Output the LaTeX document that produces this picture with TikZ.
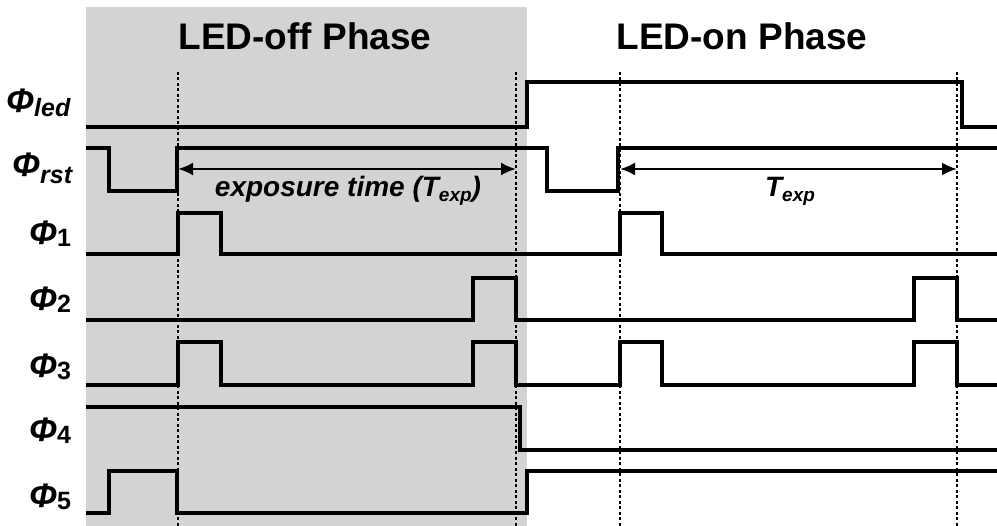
\documentclass[tikz,border=0pt]{standalone}
\usepackage{fontspec}
\setmainfont{Liberation Sans}
\usetikzlibrary{arrows.meta}
\definecolor{phasegray}{RGB}{211,211,211}
\newcommand{\sigsub}[2]{\raisebox{-#1pt}{\fontsize{25}{28}\selectfont #2}}
\newcommand{\expsub}{\raisebox{-5pt}{\fontsize{19}{20}\selectfont exp}}
\begin{document}
\begin{tikzpicture}[x=1pt,y=-1pt,
  wave/.style={line width=4pt, line join=miter},
  guide/.style={line width=2.6pt, dash pattern=on 3pt off 2.5pt},
  span/.style={line width=2.5pt, {Latex[length=15pt,width=13pt]}-{Latex[length=15pt,width=13pt]}},
  sig/.style={font=\fontsize{34}{36}\selectfont\bfseries\itshape, anchor=base west, inner sep=0pt},
  phase/.style={font=\fontsize{37}{40}\selectfont\bfseries, anchor=base, inner sep=0pt},
  note/.style={font=\fontsize{28}{30}\selectfont\bfseries\itshape, anchor=base, inner sep=0pt}]
\useasboundingbox (0,0) rectangle (997,526);
\fill[phasegray] (86,7) rectangle (527,526);
% phase titles
\node[phase] (off) at (305,50) {LED-off Phase};
\node[phase] (on) at (742,50) {LED-on Phase};
% guide lines
\coordinate (g1t) at (178,72); \coordinate (g1b) at (178,526);
\coordinate (g2t) at (516,72); \coordinate (g2b) at (516,526);
\coordinate (g3t) at (620,72); \coordinate (g3b) at (620,526);
\coordinate (g4t) at (957,72); \coordinate (g4b) at (957,526);
\draw[guide] (g1t) -- (g1b);
\draw[guide] (g2t) -- (g2b);
\draw[guide] (g3t) -- (g3b);
\draw[guide] (g4t) -- (g4b);
% signal labels
\node[sig] (lled) at (6,113) {Φ\sigsub{4}{led}};
\node[sig] (lrst) at (12,177) {Φ\sigsub{7}{rst}};
\node[sig] (l1) at (29,245) {Φ\sigsub{2}{\upshape 1}};
\node[sig] (l2) at (29,311) {Φ\sigsub{2}{\upshape 2}};
\node[sig] (l3) at (29,378) {Φ\sigsub{2}{\upshape 3}};
\node[sig] (l4) at (29,442) {Φ\sigsub{2}{\upshape 4}};
\node[sig] (l5) at (29,508) {Φ\sigsub{2}{\upshape 5}};
% waveforms
\draw[wave] (86,127) -| (527,82) -| (962,127) -- (997,127);
\draw[wave] (86,148) -| (109,191) -| (177,148) -| (547,191) -| (618,148) -- (997,148);
\draw[wave] (86,254) -| (178,213) -| (221,254) -| (620,213) -| (662,254) -- (997,254);
\draw[wave] (86,320) -| (473,278) -| (516,320) -| (914,278) -| (957,320) -- (997,320);
\draw[wave] (86,385) -| (178,342) -| (221,385) -| (473,342) -| (516,385) -| (620,342) -| (662,385) -| (914,342) -| (957,385) -- (997,385);
\draw[wave] (86,407) -| (520,450) -- (997,450);
\draw[wave] (86,513) -| (109,471) -| (177,513) -| (527,471) -- (997,471);
% exposure arrows
\coordinate (a1l) at (178,169); \coordinate (a1r) at (516,169);
\coordinate (a2l) at (620,169); \coordinate (a2r) at (957,169);
\draw[span] (a1l) -- (a1r);
\draw[span] (a2l) -- (a2r);
\node[note] (exp1) at (348,197) {exposure time (T\expsub)};
\node[note] (exp2) at (790,197) {T\expsub};
\end{tikzpicture}
\end{document}
